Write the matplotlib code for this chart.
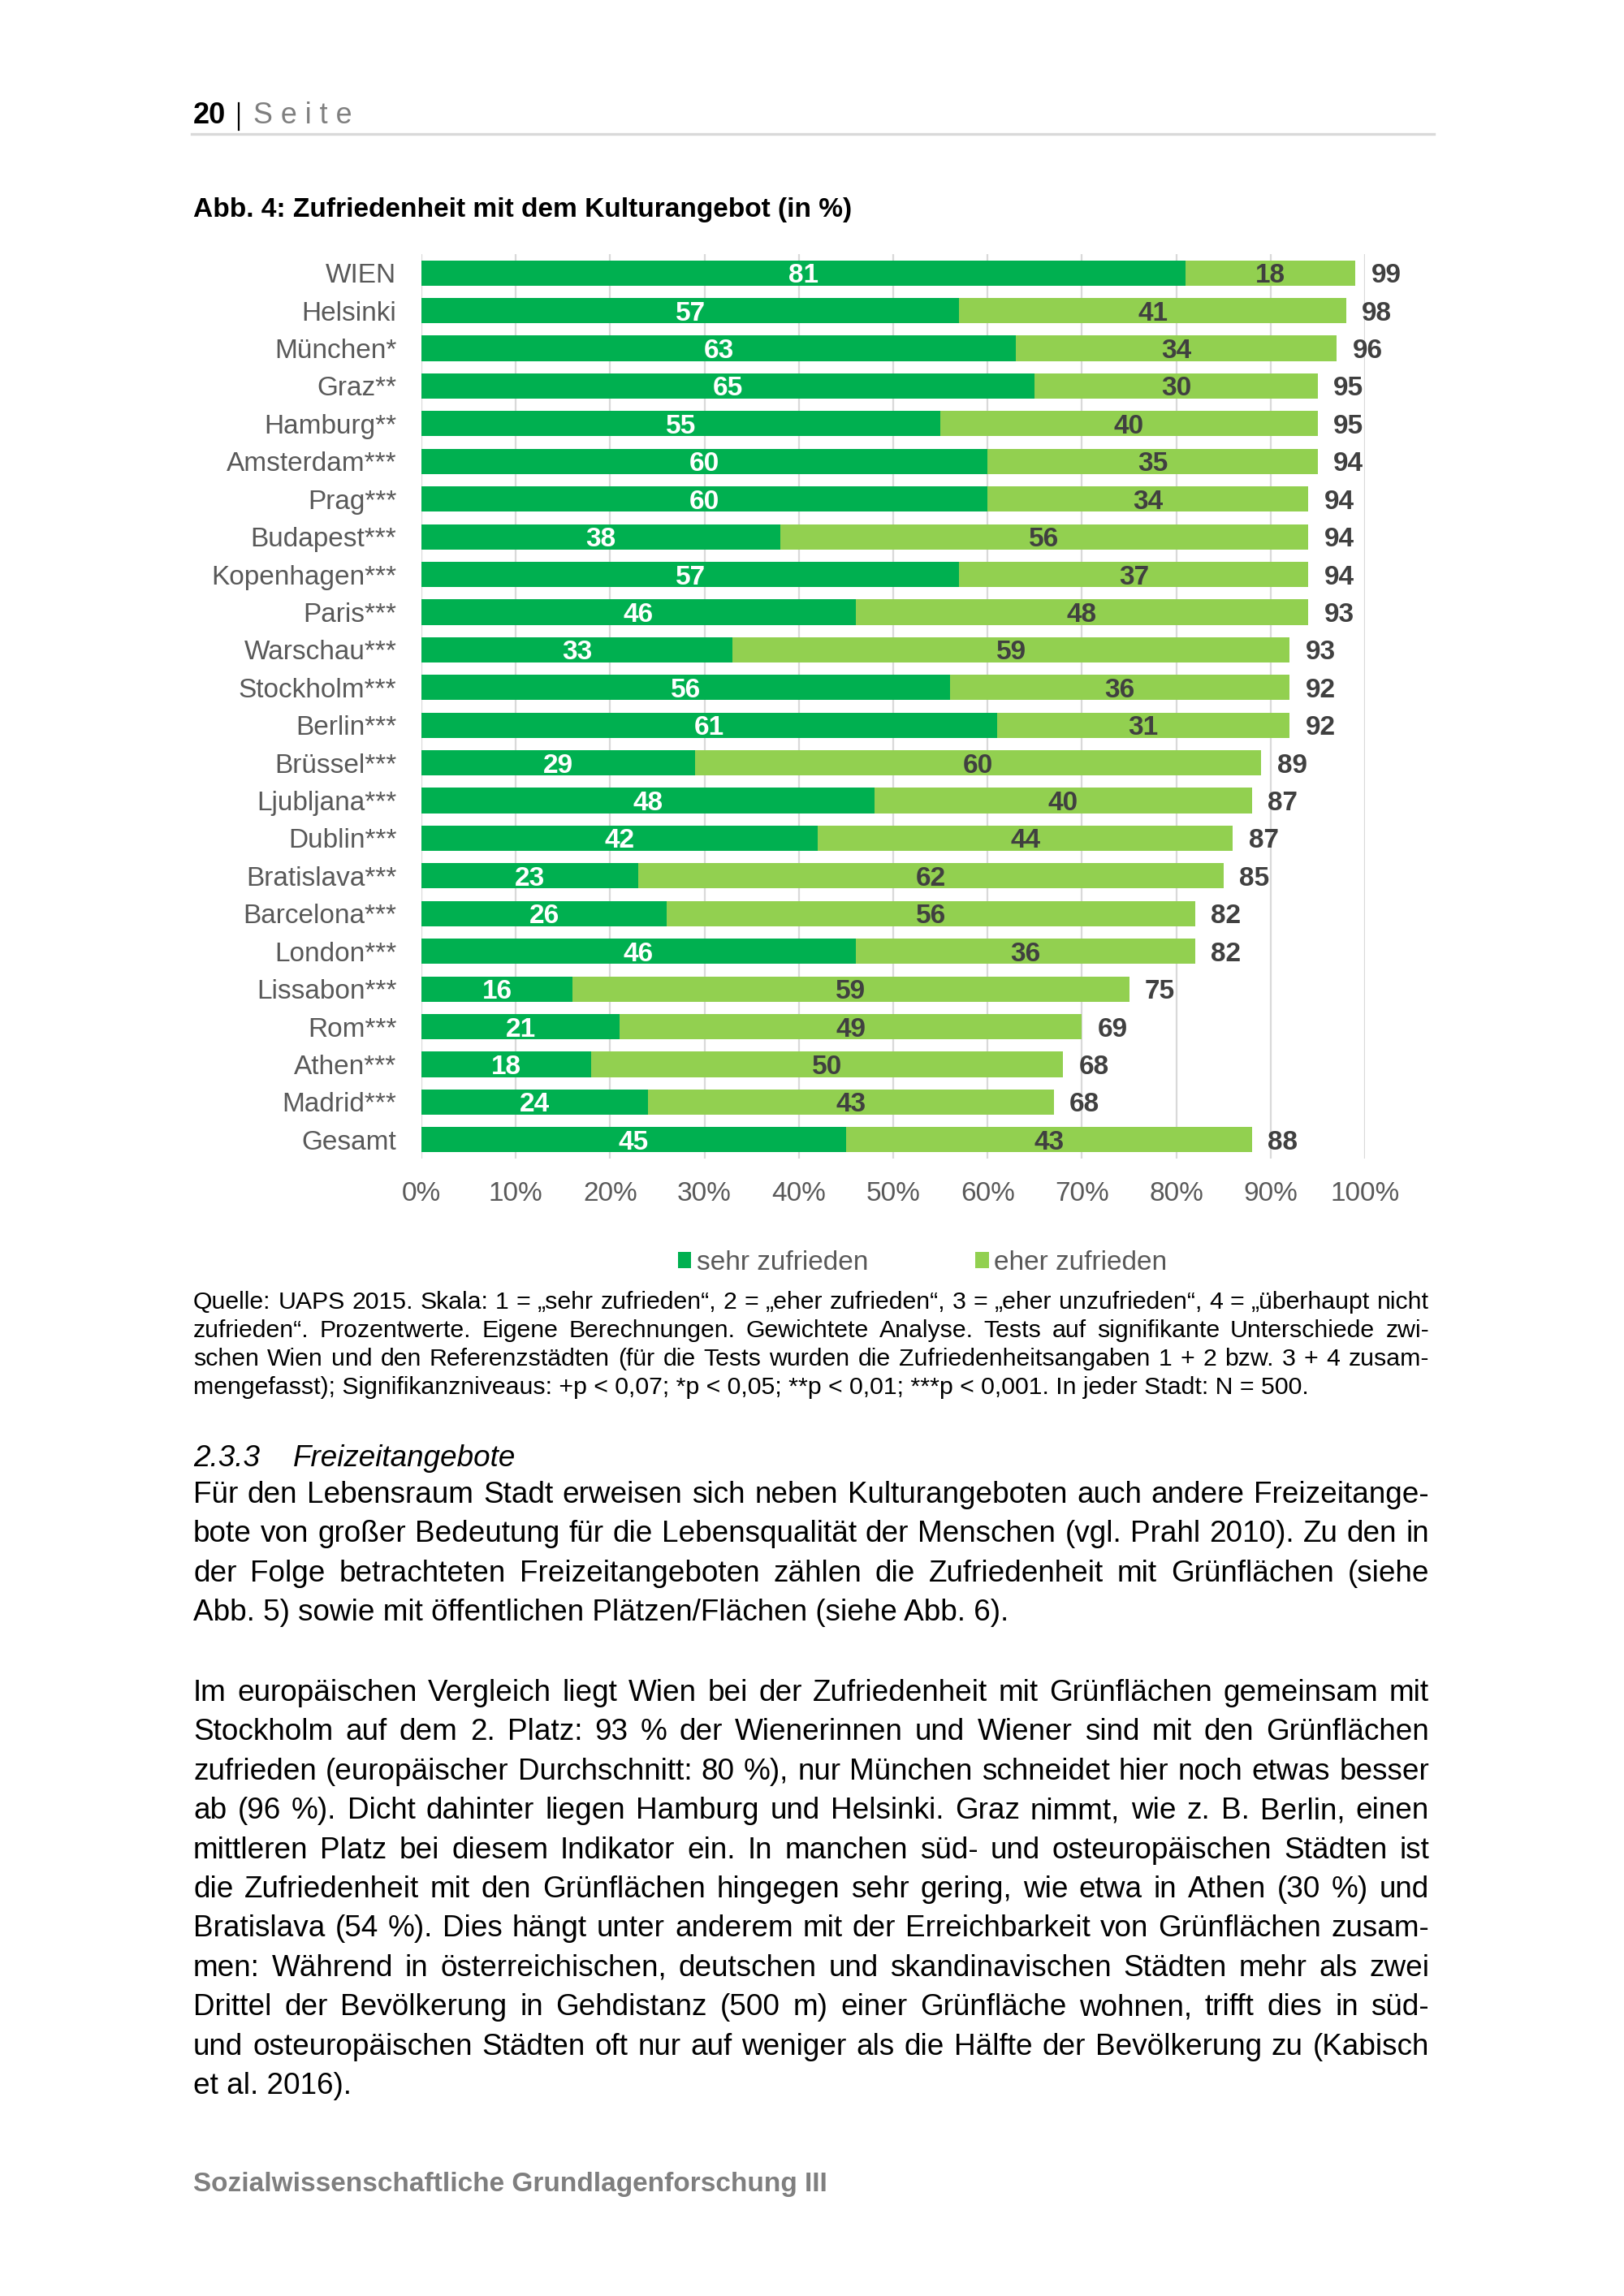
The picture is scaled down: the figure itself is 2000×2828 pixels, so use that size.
import matplotlib
matplotlib.use("Agg")
import matplotlib.pyplot as plt
from matplotlib.lines import Line2D
import numpy as np

plt.rcParams['font.family'] = ['Liberation Sans', 'DejaVu Sans']

# ---------------- data ----------------
cities = ["WIEN", "Helsinki", "München*", "Graz**", "Hamburg**", "Amsterdam***",
          "Prag***", "Budapest***", "Kopenhagen***", "Paris***", "Warschau***",
          "Stockholm***", "Berlin***", "Brüssel***", "Ljubljana***", "Dublin***",
          "Bratislava***", "Barcelona***", "London***", "Lissabon***", "Rom***",
          "Athen***", "Madrid***", "Gesamt"]
sehr = [81, 57, 63, 65, 55, 60, 60, 38, 57, 46, 33, 56, 61, 29, 48, 42, 23, 26, 46, 16, 21, 18, 24, 45]
eher = [18, 41, 34, 30, 40, 35, 34, 56, 37, 48, 59, 36, 31, 60, 40, 44, 62, 56, 36, 59, 49, 50, 43, 43]
gesamt = [99, 98, 96, 95, 95, 94, 94, 94, 94, 93, 93, 92, 92, 89, 87, 87, 85, 82, 82, 75, 69, 68, 68, 88]
xticks = [0, 10, 20, 30, 40, 50, 60, 70, 80, 90, 100]
series_names = ["sehr zufrieden", "eher zufrieden"]

title = "Abb. 4: Zufriedenheit mit dem Kulturangebot (in %)"
footnote = [
    "Quelle: UAPS 2015. Skala: 1 = „sehr zufrieden“, 2 = „eher zufrieden“, 3 = „eher unzufrieden“, 4 = „überhaupt nicht",
    "zufrieden“. Prozentwerte. Eigene Berechnungen. Gewichtete Analyse. Tests auf signifikante Unterschiede zwi-",
    "schen Wien und den Referenzstädten (für die Tests wurden die Zufriedenheitsangaben 1 + 2 bzw. 3 + 4 zusam-",
    "mengefasst); Signifikanzniveaus: +p < 0,07; *p < 0,05; **p < 0,01; ***p < 0,001. In jeder Stadt: N = 500.",
]
para1 = [
    "Für den Lebensraum Stadt erweisen sich neben Kulturangeboten auch andere Freizeitange-",
    "bote von großer Bedeutung für die Lebensqualität der Menschen (vgl. Prahl 2010). Zu den in",
    "der Folge betrachteten Freizeitangeboten zählen die Zufriedenheit mit Grünflächen (siehe",
    "Abb. 5) sowie mit öffentlichen Plätzen/Flächen (siehe Abb. 6).",
]
para2 = [
    "Im europäischen Vergleich liegt Wien bei der Zufriedenheit mit Grünflächen gemeinsam mit",
    "Stockholm auf dem 2. Platz: 93 % der Wienerinnen und Wiener sind mit den Grünflächen",
    "zufrieden (europäischer Durchschnitt: 80 %), nur München schneidet hier noch etwas besser",
    "ab (96 %). Dicht dahinter liegen Hamburg und Helsinki. Graz nimmt, wie z. B. Berlin, einen",
    "mittleren Platz bei diesem Indikator ein. In manchen süd- und osteuropäischen Städten ist",
    "die Zufriedenheit mit den Grünflächen hingegen sehr gering, wie etwa in Athen (30 %) und",
    "Bratislava (54 %). Dies hängt unter anderem mit der Erreichbarkeit von Grünflächen zusam-",
    "men: Während in österreichischen, deutschen und skandinavischen Städten mehr als zwei",
    "Drittel der Bevölkerung in Gehdistanz (500 m) einer Grünfläche wohnen, trifft dies in süd-",
    "und osteuropäischen Städten oft nur auf weniger als die Hälfte der Bevölkerung zu (Kabisch",
    "et al. 2016).",
]

# ---------------- figure ----------------
W, H = 2000, 2828
DPI = 200
fig = plt.figure(figsize=(W / DPI, H / DPI), dpi=DPI)
fig.patch.set_facecolor("white")
renderer = fig.canvas.get_renderer()


def fx(x):
    return x / W


def fy(y):
    return 1 - y / H


def fit_text(x, yb, s, target_w, size0, **kw):
    t = fig.text(fx(x), fy(yb), s, fontsize=size0, va="baseline", ha="left", **kw)
    w = t.get_window_extent(renderer).width
    t.set_fontsize(size0 * target_w / w)
    return t


def justified(lines, x0, x1, baselines, size, **kw):
    for i, (line, yb) in enumerate(zip(lines, baselines)):
        words = line.split(" ")
        if i == len(lines) - 1 or len(words) == 1:
            fig.text(fx(x0), fy(yb), line, fontsize=size, va="baseline", ha="left", **kw)
            continue
        texts = [fig.text(0, 0, w, fontsize=size, va="baseline", ha="left", **kw) for w in words]
        widths = [t.get_window_extent(renderer).width for t in texts]
        gap = (x1 - x0 - sum(widths)) / (len(words) - 1)
        x = x0
        for t, w in zip(texts, widths):
            t.set_position((fx(x), fy(yb)))
            x += w + gap


# ---------------- header ----------------
fig.text(fx(238), fy(152), "20", fontsize=13, fontweight="bold", color="black", va="baseline")
fig.add_artist(Line2D([fx(294), fx(294)], [fy(127), fy(160)], color="black", lw=0.8))
fit_text(312, 152, "S e i t e", 121, 13, color="#7f7f7f")
fig.add_artist(Line2D([fx(236), fx(1766)], [fy(165), fy(165)], color="#d9d9d9", lw=1.2))

# title
fit_text(238, 267, title, 813, 12, fontweight="bold", color="black")

# ---------------- chart ----------------
ax_l, ax_r, ax_t, ax_b = 519, 1681, 313, 1427
ax = fig.add_axes([fx(ax_l), fy(ax_b), (ax_r - ax_l) / W, (ax_b - ax_t) / H])
y = np.arange(len(cities))
c_dark = "#00B050"
c_light = "#92D050"
b1 = ax.barh(y, sehr, height=0.67, color=c_dark, label=series_names[0], zorder=3)
b2 = ax.barh(y, eher, left=sehr, height=0.67, color=c_light, label=series_names[1], zorder=3)

labs = []
labs += ax.bar_label(b1, labels=[str(v) for v in sehr], label_type="center", color="white",
                     fontsize=12, fontweight="bold")
labs += ax.bar_label(b2, labels=[str(v) for v in eher], label_type="center", color="#404040",
                     fontsize=12, fontweight="bold")
labs += ax.bar_label(b2, labels=[str(v) for v in gesamt], label_type="edge", padding=7,
                     color="#404040", fontsize=12, fontweight="bold")
for a in labs:
    a.set_verticalalignment("center_baseline")

ax.set_xlim(0, 100)
ax.set_ylim(len(cities) - 0.5, -0.5)
ax.set_xticks(xticks)
ax.set_xticklabels([f"{v}%" for v in xticks])
ax.set_yticks(y)
ax.set_yticklabels(cities)
ax.tick_params(axis="y", length=0, pad=11, labelsize=12, labelcolor="#595959")
ax.tick_params(axis="x", length=0, pad=10, labelsize=12, labelcolor="#595959")
for s in ax.spines.values():
    s.set_visible(False)
ax.xaxis.grid(True, color="#d9d9d9", lw=0.8, zorder=0)
ax.set_axisbelow(True)
ax.set_facecolor("none")

leg = ax.legend(handles=[b1, b2], labels=series_names, loc="center",
                bbox_to_anchor=(fx(1136), fy(1555)), bbox_transform=fig.transFigure,
                ncol=2, frameon=False, fontsize=12, handlelength=0.5, handleheight=0.55,
                handletextpad=0.2, columnspacing=3.95, borderpad=0)
for t in leg.get_texts():
    t.set_color("#595959")

# ---------------- footnote ----------------
justified(footnote, 238, 1760, [1612, 1647, 1682, 1717], 10.9, color="black")

# ---------------- section heading ----------------
fig.text(fx(238), fy(1806), "2.3.3", fontsize=13.3, fontstyle="italic", va="baseline")
fit_text(361, 1806, "Freizeitangebote", 274, 13.3, fontstyle="italic", color="black")

# ---------------- body ----------------
p1_base = [1851 + 48.4 * i for i in range(len(para1))]
justified(para1, 238, 1760, p1_base, 13.3, color="black")
p2_base = [2095 + 48.4 * i for i in range(len(para2))]
justified(para2, 238, 1760, p2_base, 13.3, color="black")

# ---------------- footer ----------------
fit_text(238, 2699, "Sozialwissenschaftliche Grundlagenforschung III", 783, 12,
         fontweight="bold", color="#7f7f7f")

fig.savefig("out.png", dpi=DPI, facecolor="white")
